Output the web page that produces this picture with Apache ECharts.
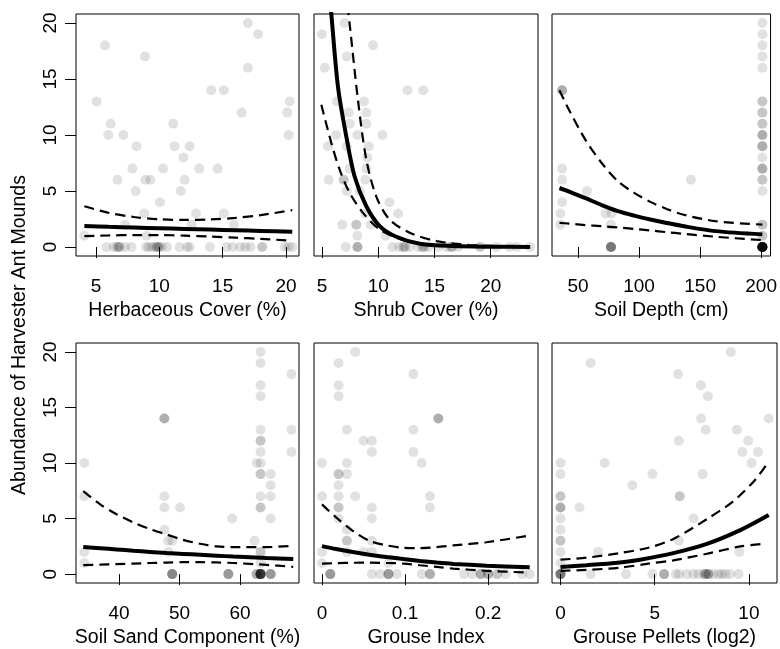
<!DOCTYPE html>
<html><head><meta charset="utf-8">
<script src="https://cdn.jsdelivr.net/npm/echarts@6/dist/echarts.min.js"></script>
<style>html,body{margin:0;padding:0;background:#fff}#c{width:780px;height:649px}</style>
</head><body><div id="c"></div>
<script>
// ---------------- data ----------------
const yTicks = [0, 5, 10, 15, 20];
const yTitle = 'Abundance of Harvester Ant Mounds';

// Panel 1: Herbaceous Cover (%)
const herbPts = [[4.08,1],[5.05,13],[5.7,18],[5.97,10],[6.16,11],[6.7,6],[7.16,10],[7.3,2],[7.87,7],[8.13,5],[8.2,9],[8.8,3],[8.87,17],[8.9,6],[9.0,1],[9.3,6],[10.05,4],[10.3,7],[11.1,11],[11.2,9],[11.7,5],[11.9,8],[12.0,6],[12.4,9],[12.55,2],[12.9,3],[13.15,7],[14.1,14],[14.6,7],[15.1,14],[15.1,3],[15.9,2],[16.5,12],[17.0,20],[17.0,16],[17.8,19],[20.1,12],[20.2,10],[20.3,13]];
const herbZeroX = [5.84,6.4,6.65,6.76,6.8,6.9,7.3,7.8,8.95,9.15,9.4,9.66,9.8,9.87,9.9,10.0,10.2,10.6,11.6,12.2,12.4,14.0,15.3,15.8,16.4,16.8,17.2,18.1,18.15,19.9,20.2,20.5];
const herbTicks = [5, 10, 15, 20];
const herbFitX = [4.08, 6, 8, 10, 12, 14, 16, 18, 20.5];
const herbFit  = [1.87, 1.80, 1.74, 1.68, 1.62, 1.56, 1.50, 1.44, 1.36];
const herbUp   = [3.64, 3.05, 2.68, 2.48, 2.42, 2.46, 2.6, 2.85, 3.3];
const herbLo   = [0.97, 1.03, 1.07, 1.07, 1.02, 0.94, 0.84, 0.73, 0.57];

// Panel 2: Shrub Cover (%)
const shrubPts = [[5.0,19],[5.24,16],[5.53,9],[5.6,6],[6.27,10],[6.33,13],[6.8,2],[6.93,6],[6.93,6],[7.0,20],[7.2,17],[7.2,9],[7.2,5],[7.37,12],[7.46,11],[7.46,7],[8.05,2],[8.05,2],[8.14,10],[8.14,1],[8.35,5],[8.74,13],[8.85,6],[8.85,3],[8.94,12],[8.94,11],[8.94,7],[9.03,8],[9.15,9],[9.33,2],[9.54,18],[10.37,10],[10.66,1],[11.0,4],[11.76,3],[12.6,14],[14.0,14]];
const shrubZeroX = [7.11,8.15,8.15,8.15,11.27,11.86,12.2,12.3,12.4,12.8,13.55,13.9,14.0,14.1,14.44,15.33,16.08,16.45,16.52,16.6,17.11,19.0,19.1,20.5,21.7,22.3,23.5];
const shrubTicks = [5, 10, 15, 20];
const shrubFitX = [5.6, 5.83, 6.42, 7.16, 7.9, 8.94, 10.13, 11.6, 13.7, 16.65, 20, 23.5];
const shrubFit  = [23.3, 20.8, 14.3, 9.87, 6.3, 3.64, 1.87, 0.92, 0.3, 0.09, 0.03, 0.01];
const shrubUpX  = [7.1, 7.46, 8.2, 8.94, 9.83, 11.0, 12.8, 15.2, 18.1, 23.5];
const shrubUp   = [23, 19.9, 13.1, 7.8, 4.5, 2.46, 1.27, 0.53, 0.18, 0.03];
const shrubLoX  = [4.94, 5.83, 6.57, 7.46, 8.65, 10.13, 12.2, 14.6, 18.1, 23.5];
const shrubLo   = [12.7, 9.3, 6.9, 4.83, 3.05, 1.57, 0.62, 0.18, 0.03, 0.0];

// Panel 3: Soil Depth (cm)
const depthPts = [[37,14],[37,14],[37,14],[37,7],[37,6],[37,4],[35.6,3],[35.6,2],[57.4,5],[72.6,3],[77.4,3],[76.9,2],[142.5,6]];
const depth201Y = [20,19,18,17,16,13,13,12,12,11,11,10,10,10,9,9,9,8,7,7,7,6,6,5,2,2,1,1];
const depthZeroX = [77,77,77,77,77,77,201,201,201,201,201,201,201,201,201,201,201,201,201,201,201,201,201,201,201,201,201,201];
const depthTicks = [50, 100, 150, 200];
const depthFitX = [34.8, 42.8, 56.1, 69.4, 82.7, 96, 109.3, 122.6, 135.9, 162.5, 201];
const depthFit  = [5.27, 4.95, 4.36, 3.75, 3.2, 2.8, 2.46, 2.15, 1.87, 1.42, 1.13];
const depthUp   = [14.0, 12.2, 9.57, 7.5, 5.87, 4.83, 4.03, 3.4, 2.9, 2.31, 2.0];
const depthLo   = [2.16, 2.09, 1.96, 1.86, 1.75, 1.62, 1.48, 1.33, 1.19, 0.92, 0.62];

// Panel 4: Soil Sand Component (%)
const sandPts = [[34.27,10],[34.27,7],[34.27,2],[34.27,1],[47.5,14],[47.5,14],[47.5,14],[47.5,7],[47.5,6],[47.5,4],[48.15,3],[48.8,3],[48.15,2],[50.1,6],[58.7,5],[62.4,3],[62.75,10],[65.07,9],[65.07,8],[65.07,7],[65.07,5],[68.5,18],[68.5,13],[68.5,11]];
const sand634Y = [20,19,17,16,13,12,12,11,10,9,9,7,6,6,2,2,1];
const sandZeroX = [48.8,48.8,48.8,48.8,48.8,58.07,58.07,58.07,58.07,62.75,62.75,62.75,63.4,63.4,63.4,63.4,63.4,63.4,63.4,63.4,63.4,63.4,63.4,63.4,65.07,65.07,65.07,65.07];
const sandTicks = [40, 50, 60];
const sandFitX = [34.1, 36.9, 39.6, 42.4, 45.1, 47.9, 50.6, 53.4, 56.1, 58.9, 64.4, 68.8];
const sandFit  = [2.43, 2.33, 2.22, 2.1, 2.0, 1.9, 1.82, 1.74, 1.66, 1.58, 1.45, 1.36];
const sandUp   = [7.47, 6.28, 5.39, 4.65, 4.06, 3.56, 3.08, 2.73, 2.49, 2.43, 2.43, 2.55];
const sandLo   = [0.8, 0.85, 0.9, 0.95, 1.0, 1.04, 1.07, 1.07, 1.05, 1.0, 0.83, 0.65];

// Panel 5: Grouse Index
const grousePts = [[0.04,20],[0.02,19],[0.02,17],[0.02,16],[0.11,18],[0.14,14],[0.14,14],[0.14,14],[0.03,13],[0.11,13],[0.05,12],[0.06,12],[0.06,11],[0.11,11],[0,10],[0.03,10],[0.12,10],[0.02,9],[0.02,9],[0.03,9],[0.02,8],[0,7],[0.02,7],[0.04,7],[0.13,7],[0.02,6],[0.02,6],[0.06,6],[0.13,6],[0.02,5],[0.06,5],[0.03,4],[0.03,3],[0.03,3],[0.06,3],[0,2],[0.03,2],[0.05,2],[0.06,2],[0,1],[0.08,1]];
const grouseZeroX = [0.01,0.01,0.01,0.01,0.06,0.07,0.08,0.08,0.08,0.08,0.09,0.12,0.13,0.13,0.13,0.171,0.181,0.191,0.191,0.191,0.2,0.2,0.2,0.211,0.211,0.221,0.241,0.25];
const grouseTicks = [0, 0.1, 0.2];
const grouseFitX = [0, 0.017, 0.037, 0.057, 0.078, 0.098, 0.118, 0.138, 0.158, 0.198, 0.25];
const grouseFit  = [2.52, 2.26, 1.99, 1.75, 1.54, 1.36, 1.19, 1.04, 0.92, 0.76, 0.62];
const grouseUp   = [6.28, 5.1, 3.9, 3.0, 2.58, 2.37, 2.34, 2.43, 2.58, 2.87, 3.47];
const grouseLo   = [0.95, 0.99, 1.02, 1.04, 1.0, 0.95, 0.8, 0.65, 0.5, 0.3, 0.13];

// Panel 6: Grouse Pellets (log2)
const pelletPts = [[9.04,20],[1.6,19],[6.24,18],[7.45,17],[7.82,16],[7.46,14],[11.05,14],[7.71,13],[9.36,13],[6.28,12],[9.96,12],[9.65,11],[10.48,11],[10.14,10],[2.34,10],[4.88,9],[7.54,9],[3.81,8],[6.33,7],[6.33,7],[1.01,6],[7.06,5],[6.28,3],[2.0,2],[9.49,2],[0,10],[0,9],[0,7],[0,7],[0,6],[0,6],[0,6],[0,5],[0,4],[0,3],[0,3],[0,2],[0,1]];
const pelletZeroX = [0,0,0,0,0,0,1.6,3.48,4.88,5.5,5.5,5.5,6.12,6.3,6.7,7.06,7.32,7.59,7.7,7.7,7.7,7.85,7.85,7.85,8.12,8.39,8.56,8.74,9.0,9.45];
const pelletTicks = [0, 5, 10];
const pelletFitX = [0, 1.38, 3.16, 4.22, 5.99, 7.77, 9.54, 11.05];
const pelletFit  = [0.65, 0.8, 1.05, 1.30, 1.89, 2.72, 3.96, 5.32];
const pelletUpX  = [0, 1.38, 3.16, 4.66, 5.99, 7.77, 9.18, 10.34, 11.04];
const pelletUp   = [1.3, 1.48, 1.9, 2.37, 3.17, 4.95, 6.57, 8.5, 10.13];
const pelletLoX  = [0, 1.38, 3.16, 4.66, 5.99, 7.77, 9.54, 10.78];
const pelletLo   = [0.3, 0.38, 0.58, 0.94, 1.24, 1.83, 2.49, 2.72];

// ---------------- build ----------------
const zip = (xs, ys) => xs.map((x, i) => [x, ys[i]]);
const zeros = xs => xs.map(x => [x, 0]);
const col = (x, ys) => ys.map(y => [x, y]);

const panels = [
  {title:'Herbaceous Cover (%)', pts: herbPts.concat(zeros(herbZeroX)), xmin:3.42, xmax:21.03, ticks:herbTicks,
   fit: zip(herbFitX, herbFit), up: zip(herbFitX, herbUp), lo: zip(herbFitX, herbLo)},
  {title:'Shrub Cover (%)', pts: shrubPts.concat(zeros(shrubZeroX)), xmin:4.29, xmax:24.2, ticks:shrubTicks,
   fit: zip(shrubFitX, shrubFit), up: zip(shrubUpX, shrubUp), lo: zip(shrubLoX, shrubLo)},
  {title:'Soil Depth (cm)', pts: depthPts.concat(col(201, depth201Y), zeros(depthZeroX)), xmin:28.7, xmax:207.7, ticks:depthTicks,
   fit: zip(depthFitX, depthFit), up: zip(depthFitX, depthUp), lo: zip(depthFitX, depthLo)},
  {title:'Soil Sand Component (%)', pts: sandPts.concat(col(63.4, sand634Y), zeros(sandZeroX)), xmin:32.9, xmax:69.75, ticks:sandTicks,
   fit: zip(sandFitX, sandFit), up: zip(sandFitX, sandUp), lo: zip(sandFitX, sandLo)},
  {title:'Grouse Index', pts: grousePts.concat(zeros(grouseZeroX)), xmin:-0.0096, xmax:0.26, ticks:grouseTicks,
   fit: zip(grouseFitX, grouseFit), up: zip(grouseFitX, grouseUp), lo: zip(grouseFitX, grouseLo)},
  {title:'Grouse Pellets (log2)', pts: pelletPts.concat(zeros(pelletZeroX)), xmin:-0.45, xmax:11.49, ticks:pelletTicks,
   fit: zip(pelletFitX, pelletFit), up: zip(pelletUpX, pelletUp), lo: zip(pelletLoX, pelletLo)}
];

const FONT = '"Liberation Sans", Arial, Helvetica, sans-serif';
const lefts = [76, 314, 552], widths = [223, 224, 225];
const tops = [14, 343], heights = [242, 244];

const grid = [], xAxis = [], yAxis = [], series = [];
panels.forEach((p, i) => {
  const r = Math.floor(i / 3), c = i % 3;
  grid.push({left: lefts[c], top: tops[r], width: widths[c], height: heights[r],
    show: true, borderColor: '#000', borderWidth: 1, backgroundColor: 'transparent', containLabel: false});
  xAxis.push({gridIndex: i, type: 'value', min: p.xmin, max: p.xmax,
    axisLine: {show: false},
    axisTick: {show: true, customValues: p.ticks, length: 11, lineStyle: {color: '#000', width: 1}},
    axisLabel: {show: true, customValues: p.ticks, fontSize: 19, color: '#000', fontFamily: FONT, margin: 21},
    splitLine: {show: false},
    name: p.title, nameLocation: 'middle', nameGap: 45,
    nameTextStyle: {fontSize: 19.5, color: '#000', fontFamily: FONT}});
  yAxis.push({gridIndex: i, type: 'value', min: -0.8, max: 20.8,
    axisLine: {show: false},
    axisTick: {show: c === 0, customValues: yTicks, length: 11, lineStyle: {color: '#000', width: 1}},
    axisLabel: {show: c === 0, customValues: yTicks, rotate: 90, fontSize: 19, color: '#000', fontFamily: FONT, margin: 16},
    splitLine: {show: false}});
  series.push({type: 'scatter', xAxisIndex: i, yAxisIndex: i, data: p.pts, symbol: 'circle', symbolSize: 10,
    itemStyle: {color: 'rgba(0,0,0,0.15)', borderWidth: 0}, silent: true, z: 1});
  const common = {type: 'line', xAxisIndex: i, yAxisIndex: i, showSymbol: false, smooth: 0.3, clip: true, silent: true};
  series.push(Object.assign({}, common, {data: p.up, lineStyle: {color: '#000', width: 2.2, type: [10, 6]}, z: 2}));
  series.push(Object.assign({}, common, {data: p.lo, lineStyle: {color: '#000', width: 2.2, type: [10, 6]}, z: 2}));
  series.push(Object.assign({}, common, {data: p.fit, lineStyle: {color: '#000', width: 4}, z: 3}));
});

const chart = echarts.init(document.getElementById('c'), null, {renderer: 'canvas'});
chart.setOption({
  animation: false,
  backgroundColor: '#fff',
  grid, xAxis, yAxis, series,
  graphic: [{type: 'text', x: 20, y: 335, rotation: Math.PI / 2,
    style: {text: yTitle, fill: '#000', font: '19.5px ' + FONT, align: 'center', verticalAlign: 'middle'}}]
});
</script></body></html>
